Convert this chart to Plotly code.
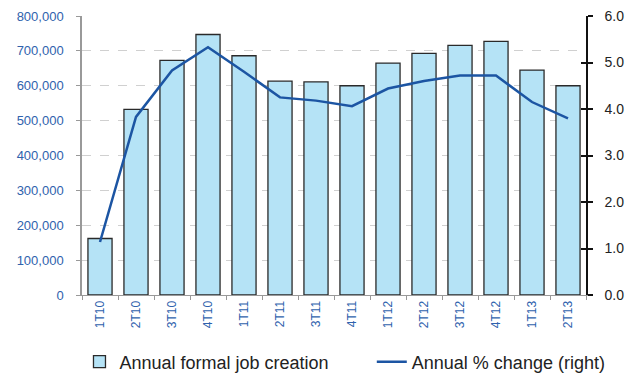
import plotly.graph_objects as go

quarters = ["1T10", "2T10", "3T10", "4T10", "1T11", "2T11", "3T11", "4T11",
            "1T12", "2T12", "3T12", "4T12", "1T13", "2T13"]
job_creation = [162000, 532000, 673000, 747000, 686000, 613000, 611000, 600000,
                665000, 693000, 716000, 727000, 645000, 600000]
pct_change = [1.14, 3.83, 4.83, 5.33, 4.80, 4.25, 4.18, 4.06,
              4.44, 4.60, 4.72, 4.72, 4.15, 3.80]
left_ticks = [0, 100000, 200000, 300000, 400000, 500000, 600000, 700000, 800000]
left_labels = ["0", "100,000", "200,000", "300,000", "400,000", "500,000",
               "600,000", "700,000", "800,000"]
right_ticks = [0, 1, 2, 3, 4, 5, 6]
right_labels = ["0.0", "1.0", "2.0", "3.0", "4.0", "5.0", "6.0"]

FONT = "Liberation Sans, Arial, sans-serif"
BLUE_TXT = "#2f62ad"

fig = go.Figure()
fig.add_trace(go.Bar(
    x=quarters, y=job_creation, name="Annual formal job creation",
    marker=dict(color="#b5e3f6", line=dict(color="#2a2a2a", width=1.3)),
    yaxis="y", legend="legend",
))
fig.add_trace(go.Scatter(
    x=quarters, y=pct_change, name="Annual % change (right)",
    mode="lines", line=dict(color="#1c55a3", width=2.5), yaxis="y2",
    legend="legend2",
))
# invisible helper trace for crossing ticks on right axis
fig.add_trace(go.Scatter(
    x=quarters, y=pct_change, mode="lines", line=dict(width=0),
    yaxis="y3", showlegend=False, hoverinfo="skip", opacity=0,
))

legend_font = dict(size=18, color="#222222", family=FONT)
fig.update_layout(
    width=626, height=375,
    margin=dict(l=82, r=40, t=16, b=80, autoexpand=False),
    paper_bgcolor="white", plot_bgcolor="white",
    bargap=0.33,
    font=dict(family=FONT),
    showlegend=True,
    legend=dict(
        orientation="h", x=-0.005, xanchor="left", y=-0.24, yanchor="middle",
        font=legend_font, bgcolor="rgba(0,0,0,0)",
    ),
    legend2=dict(
        orientation="h", x=0.575, xanchor="left", y=-0.24, yanchor="middle",
        font=legend_font, bgcolor="rgba(0,0,0,0)",
    ),
    xaxis=dict(
        type="category",
        showline=True, linecolor="#999999", linewidth=1,
        ticks="outside", tickson="boundaries", ticklen=4, tickcolor="#999999",
        tickangle=-90, tickfont=dict(size=12, color=BLUE_TXT, family=FONT),
        showgrid=False, zeroline=False,
    ),
    yaxis=dict(
        range=[0, 800000], tickvals=left_ticks, ticktext=left_labels,
        showline=True, linecolor="#999999", linewidth=1.5,
        ticks="outside", ticklen=4, tickcolor="#999999",
        tickfont=dict(size=13, color=BLUE_TXT, family=FONT),
        ticklabelstandoff=10,
        showgrid=True, gridcolor="#d0d0d0", griddash="dash", gridwidth=1,
        zeroline=False,
    ),
    yaxis2=dict(
        range=[0, 6], tickvals=right_ticks, ticktext=right_labels,
        overlaying="y", side="right",
        showline=True, linecolor="#111111", linewidth=1.5,
        ticks="outside", ticklen=5, tickcolor="#111111", tickwidth=1.5,
        tickfont=dict(size=14, color="#222222", family=FONT),
        ticklabelstandoff=9,
        showgrid=False, zeroline=False,
    ),
    yaxis3=dict(
        range=[0, 6], tickvals=right_ticks,
        overlaying="y", side="right",
        showline=False,
        ticks="inside", ticklen=5, tickcolor="#111111", tickwidth=1.5,
        showticklabels=False, showgrid=False, zeroline=False,
    ),
)

fig.write_html("out.html")
